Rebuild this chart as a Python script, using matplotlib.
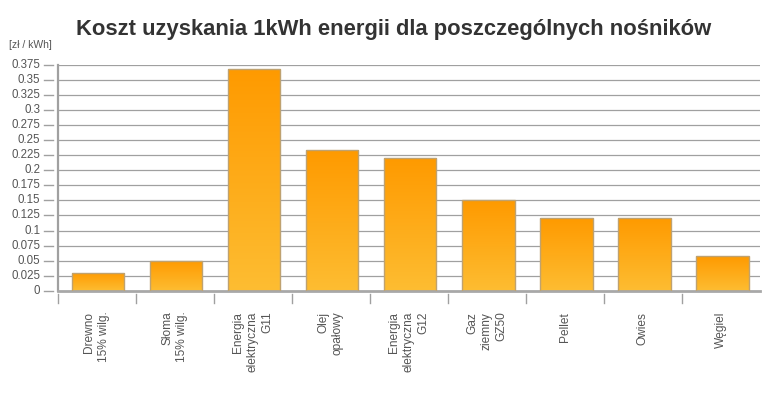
import numpy as np
from matplotlib import pyplot as plt
from matplotlib.colors import LinearSegmentedColormap
from matplotlib import transforms

plt.rcParams['font.family'] = ['Liberation Sans', 'DejaVu Sans']

# dane
nosniki = ["Drewno\n15% wilg.", "Słoma\n15% wilg.", "Energia\nelektryczna\nG11",
           "Olej\nopałowy", "Energia\nelektryczna\nG12", "Gaz\nziemny\nGZ50",
           "Pellet", "Owies", "Węgiel"]
koszt = [0.03, 0.05, 0.369, 0.234, 0.22, 0.15, 0.12, 0.12, 0.058]
y_ticks = [0, 0.025, 0.05, 0.075, 0.1, 0.125, 0.15, 0.175, 0.2, 0.225,
           0.25, 0.275, 0.3, 0.325, 0.35, 0.375]
y_labels = ["0", "0.025", "0.05", "0.075", "0.1", "0.125", "0.15", "0.175", "0.2",
            "0.225", "0.25", "0.275", "0.3", "0.325", "0.35", "0.375"]

fig = plt.figure(figsize=(7.77, 3.97), dpi=100)
W, H = 777, 397
ax = fig.add_axes([57.5 / W, 1 - 290.7 / H, (760 - 57.5) / W, (290.7 - 65) / H])

x = np.arange(len(koszt)) + 0.5
ax.set_xlim(0, len(koszt))
ax.set_ylim(0, 0.375)

# siatka
for t in y_ticks[1:]:
    ax.axhline(t, color='#a0a0a0', lw=0.9, zorder=1)

cmap = LinearSegmentedColormap.from_list('pom', ['#fdbd32', '#ff9a00'])
grad = np.linspace(0, 1, 256).reshape(-1, 1)
bars = ax.bar(x + 0.02, koszt, width=0.67, facecolor='none',
              edgecolor='#bfa270', lw=1.0, zorder=3)
for b in bars:
    x0, w, h = b.get_x(), b.get_width(), b.get_height()
    im = ax.imshow(grad, cmap=cmap, origin='lower', aspect='auto',
                   extent=(x0, x0 + w, 0, h), zorder=2)
    im.set_clip_path(b)
ax.set_xlim(0, len(koszt))
ax.set_ylim(0, 0.375)

for s in ['top', 'right']:
    ax.spines[s].set_visible(False)
ax.spines['left'].set_color('#a0a0a0')
ax.spines['left'].set_linewidth(1.6)
ax.spines['bottom'].set_color('#a8a8a8')
ax.spines['bottom'].set_linewidth(2)
ax.tick_params(length=0)
ax.set_xticks([])
ax.set_yticks([])

# ticki osi y (z przerwą od osi)
tr_y = transforms.blended_transform_factory(ax.transAxes, ax.transData)
px = 1 / (760 - 57.5)
for t, lab in zip(y_ticks, y_labels):
    ax.plot([-14 * px, -4.5 * px], [t, t], color='#a0a0a0', lw=1.0,
            transform=tr_y, clip_on=False)
    ax.text(-17 * px, t, lab, transform=tr_y, ha='right', va='center',
            fontsize=8.3, color='#555555')

# ticki osi x
tr_x = transforms.blended_transform_factory(ax.transData, ax.transAxes)
py = 1 / (290.7 - 65)
for i in range(len(koszt)):
    ax.plot([i, i], [-3.5 * py, -12 * py], color='#a0a0a0', lw=1.0,
            transform=tr_x, clip_on=False)
for xi, lab in zip(x, nosniki):
    ax.text(xi, -21 * py, lab, transform=tr_x, rotation=90, ha='center', va='top',
            multialignment='right', fontsize=8.6, color='#555555', linespacing=1.28)

fig.text(393.5 / W, 1 - 30 / H, "Koszt uzyskania 1kWh energii dla poszczególnych nośników",
         ha='center', va='center', fontsize=15.8, fontweight='bold', color='#333333')
fig.text(9 / W, 1 - 45 / H, "[zł / kWh]", ha='left', va='center', fontsize=7.5,
         color='#555555')

fig.savefig('out.png', dpi=100)
